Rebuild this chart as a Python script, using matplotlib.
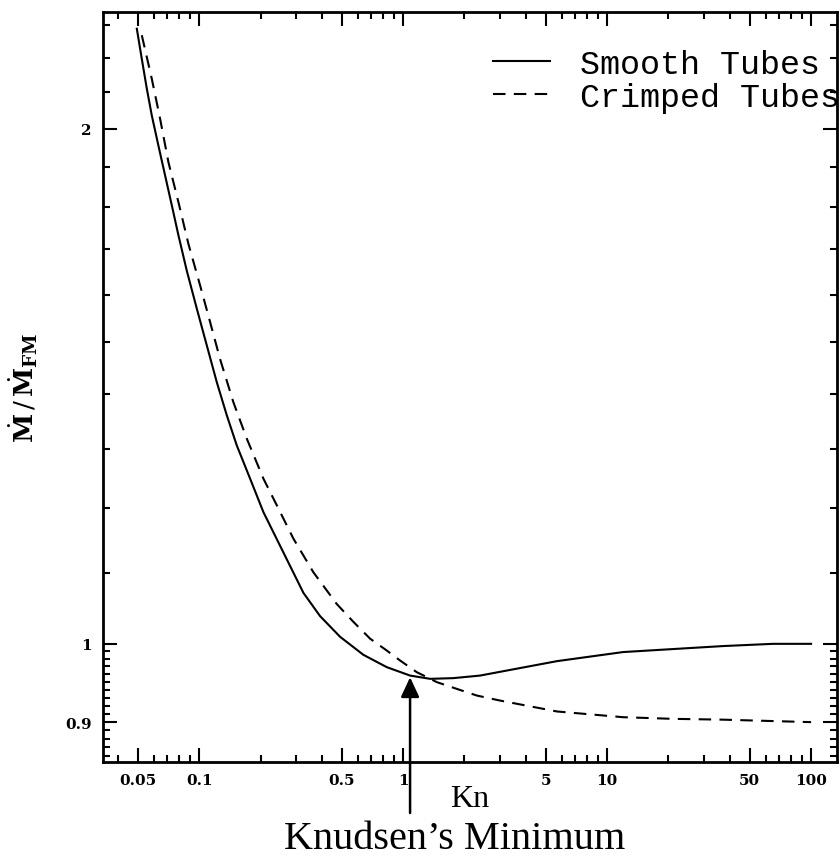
import matplotlib
matplotlib.use("Agg")
import matplotlib.pyplot as plt
from matplotlib.ticker import FixedLocator, NullFormatter, FixedFormatter

plt.rcParams["mathtext.fontset"] = "dejavuserif"

# ---- data ----
kn_smooth = [0.04951, 0.05237, 0.05541, 0.05862, 0.06317, 0.06813, 0.07349,
             0.07917, 0.08703, 0.09743, 0.1091, 0.1221, 0.1367, 0.1530, 0.1778,
             0.2066, 0.2495, 0.3246, 0.3918, 0.4911, 0.6389, 0.8320, 1.082,
             1.356, 1.764, 2.385, 3.224, 5.687, 11.98, 21.06, 37.03, 65.1, 100.0]
m_smooth = [2.288, 2.197, 2.111, 2.036, 1.955, 1.878, 1.804,
            1.733, 1.652, 1.570, 1.494, 1.422, 1.360, 1.306, 1.249,
            1.194, 1.141, 1.071, 1.038, 1.0095, 0.9853, 0.9691, 0.9582,
            0.9540, 0.9549, 0.9582, 0.9647, 0.977, 0.989, 0.993, 0.997, 1.0, 1.0]

kn_crimped = [0.05237, 0.05862, 0.06439, 0.07072, 0.07917, 0.08862, 0.1011,
              0.1132, 0.1267, 0.1473, 0.1713, 0.2066, 0.2403, 0.2900, 0.3634,
              0.4732, 0.5708, 0.6889, 0.8320, 0.9667, 1.167, 1.463, 1.833,
              2.298, 2.988, 5.687, 11.98, 21.06, 37.03, 100.0]
m_crimped = [2.268, 2.139, 2.027, 1.912, 1.812, 1.713, 1.620,
             1.542, 1.467, 1.384, 1.318, 1.249, 1.205, 1.152, 1.101,
             1.055, 1.030, 1.007, 0.9910, 0.9778, 0.9626, 0.9498, 0.9412,
             0.9328, 0.9265, 0.913, 0.906, 0.904, 0.903, 0.900]

x_ticks = [0.05, 0.1, 0.5, 1, 5, 10, 50, 100]
x_ticklabels = ["0.05", "0.1", "0.5", "1", "5", "10", "50", "100"]
y_ticks = [0.9, 1, 2]
y_ticklabels = ["0.9", "1", "2"]
series_labels = ["Smooth Tubes", "Crimped Tubes"]
min_kn, min_m = 1.082, 0.956

W, H = 840, 862
fig = plt.figure(figsize=(W / 100, H / 100), dpi=100)
ax = fig.add_axes([103 / W, 1 - 763 / H, (837 - 103) / W, (763 - 13) / H])

l1, = ax.plot(kn_smooth, m_smooth, color="black", lw=1.5, label=series_labels[0])
l2, = ax.plot(kn_crimped, m_crimped, color="black", lw=1.5, dashes=(6, 4),
              label=series_labels[1])

ax.set_xscale("log")
ax.set_yscale("log")
ax.set_xlim(0.0338, 134)
ax.set_ylim(0.853, 2.34)

# ticks
ax.xaxis.set_major_locator(FixedLocator(x_ticks))
ax.xaxis.set_major_formatter(FixedFormatter(x_ticklabels))
xminor = [m * 10.0 ** e for e in range(-2, 3) for m in range(1, 10)]
xminor = [v for v in xminor if 0.0338 < v < 134 and all(abs(v - t) > 1e-9 for t in x_ticks)]
ax.xaxis.set_minor_locator(FixedLocator(xminor))
ax.xaxis.set_minor_formatter(NullFormatter())

ax.yaxis.set_major_locator(FixedLocator(y_ticks))
ax.yaxis.set_major_formatter(FixedFormatter(y_ticklabels))
yminor = [0.86 + 0.01 * i for i in range(14)] + [1.1 + 0.1 * i for i in range(13)]
yminor = [round(v, 3) for v in yminor if all(abs(v - t) > 1e-6 for t in y_ticks)]
ax.yaxis.set_minor_locator(FixedLocator(yminor))
ax.yaxis.set_minor_formatter(NullFormatter())

ax.tick_params(which="both", direction="in", top=True, right=True, width=1.5)
ax.tick_params(which="major", length=10, labelsize=11, pad=8)
ax.tick_params(which="minor", length=5)
for lab in ax.get_xticklabels() + ax.get_yticklabels():
    lab.set_fontfamily("DejaVu Serif")
    lab.set_fontweight("bold")
for s in ax.spines.values():
    s.set_linewidth(2)

# labels
ax.set_ylabel(r"$\dot{\mathbf{M}}\,/\,\dot{\mathbf{M}}_{\mathbf{FM}}$", fontsize=19)
ax.yaxis.set_label_coords(-0.086, 0.5)
ax.set_xlabel("Kn", fontsize=23, family="Liberation Serif")
ax.xaxis.set_label_coords(0.5, -0.03)

# legend
leg = ax.legend(handles=[l1, l2], loc="upper left",
                bbox_to_anchor=((493 - 103) / 734, 1 - (50 - 13) / 750),
                frameon=False, prop={"family": "Liberation Mono", "size": 24},
                handlelength=1.7, handletextpad=0.9, labelspacing=0.05,
                borderaxespad=0, borderpad=0)

# Knudsen's minimum arrow + text
ax.annotate("", xy=(min_kn, min_m), xycoords="data",
            xytext=(min_kn, 1 - 814 / H), textcoords=("data", "figure fraction"),
            arrowprops=dict(arrowstyle="-|>,head_length=0.6,head_width=0.28",
                            mutation_scale=20, color="black", lw=1.8,
                            shrinkA=0, shrinkB=0),
            annotation_clip=False)
fig.text(455 / W, 1 - 840 / H, "Knudsen\u2019s Minimum", ha="center", va="center",
         fontsize=29, family="Liberation Serif")

fig.savefig("out.png", dpi=100)
